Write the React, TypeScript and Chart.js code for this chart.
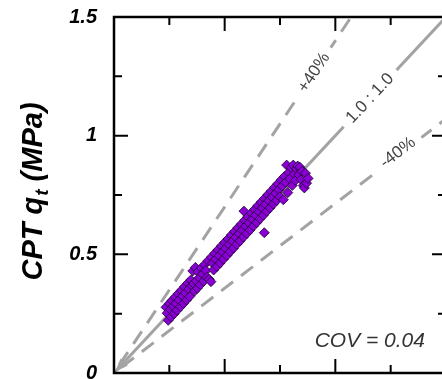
import React, { useEffect, useRef } from "react";
import { Chart, registerables } from "chart.js";

Chart.register(...registerables);

// Predicted (x) and CPT measured qt (y), MPa
const predictedQt = [
  0.235, 0.24, 0.245, 0.25, 0.255, 0.258, 0.262, 0.268, 0.272, 0.276, 0.28, 0.285, 0.29, 0.294, 0.3, 0.304,
  0.31, 0.314, 0.318, 0.323, 0.328, 0.333, 0.338, 0.342, 0.347, 0.352, 0.356, 0.36, 0.364, 0.368, 0.372, 0.376,
  0.38, 0.385, 0.39, 0.395, 0.4, 0.405, 0.41, 0.415, 0.42, 0.425, 0.43, 0.438, 0.44, 0.445, 0.45, 0.455,
  0.46, 0.465, 0.47, 0.475, 0.48, 0.485, 0.49, 0.495, 0.5, 0.505, 0.51, 0.515, 0.52, 0.525, 0.53, 0.535,
  0.54, 0.545, 0.55, 0.555, 0.56, 0.565, 0.57, 0.575, 0.58, 0.585, 0.587, 0.59, 0.595, 0.6, 0.605, 0.61,
  0.615, 0.62, 0.625, 0.63, 0.635, 0.64, 0.645, 0.65, 0.655, 0.66, 0.665, 0.67, 0.675, 0.679, 0.68, 0.685,
  0.69, 0.695, 0.7, 0.705, 0.71, 0.715, 0.72, 0.725, 0.73, 0.735, 0.74, 0.745, 0.75, 0.755, 0.76, 0.765,
  0.77, 0.775, 0.78, 0.785, 0.79, 0.795, 0.8, 0.805, 0.81, 0.815, 0.82, 0.825, 0.83, 0.835, 0.84, 0.845,
  0.85, 0.855, 0.86, 0.865, 0.87, 0.877,
];
const measuredQt = [
  0.277, 0.252, 0.222, 0.293, 0.268, 0.236, 0.305, 0.281, 0.25, 0.319, 0.293, 0.264, 0.334, 0.308, 0.279, 0.348,
  0.324, 0.293, 0.363, 0.338, 0.308, 0.378, 0.353, 0.322, 0.392, 0.368, 0.43, 0.376, 0.345, 0.445, 0.388, 0.357,
  0.426, 0.402, 0.372, 0.442, 0.417, 0.387, 0.457, 0.432, 0.403, 0.473, 0.395, 0.385, 0.488, 0.463, 0.434, 0.504,
  0.479, 0.449, 0.519, 0.494, 0.464, 0.535, 0.51, 0.48, 0.55, 0.525, 0.495, 0.565, 0.541, 0.511, 0.581, 0.556,
  0.526, 0.596, 0.572, 0.542, 0.612, 0.587, 0.557, 0.627, 0.602, 0.573, 0.682, 0.643, 0.618, 0.588, 0.658, 0.633,
  0.603, 0.674, 0.649, 0.619, 0.689, 0.664, 0.634, 0.705, 0.68, 0.65, 0.72, 0.695, 0.665, 0.591, 0.735, 0.711,
  0.681, 0.751, 0.726, 0.696, 0.766, 0.741, 0.712, 0.782, 0.757, 0.727, 0.797, 0.772, 0.743, 0.813, 0.788, 0.73,
  0.828, 0.803, 0.876, 0.76, 0.845, 0.818, 0.865, 0.79, 0.876, 0.838, 0.812, 0.86, 0.872, 0.835, 0.867, 0.815,
  0.85, 0.79, 0.78, 0.842, 0.8, 0.82,
];

// Reference lines: ratio y/x
const lineRatios = [1.4, 1.0, 1 / 1.4];
const lineDashed = [true, false, true];
const lineLabels = ["+40%", "1.0 : 1.0", "-40%"];
const labelAtX = [0.904, 1.157, 1.283];
const labelOffsetY = [0, 0, 0.012];

const axisMin = 0;
const axisMax = 1.5;
const majorStep = 0.5;
const minorTicks = [0.25, 0.5, 0.75, 1.0, 1.25];
const yTitleMain = "CPT q";
const yTitleSub = "t";
const yTitleTail = " (MPa)";
const covText = "COV = 0.04";
const covAt = { x: 1.405, y: 0.111 };

const FONT = "Arial, 'Liberation Sans', sans-serif";
const LINE_GRAY = "#a3a3a3";

const decorPlugin = {
  id: "decor",
  afterDatasetsDraw(chart: any) {
    const { ctx, scales } = chart;
    const x = scales.x;
    const y = scales.y;
    ctx.save();
    ctx.font = `17px ${FONT}`;
    ctx.textAlign = "center";
    ctx.textBaseline = "middle";
    lineLabels.forEach((txt, i) => {
      const lx = labelAtX[i];
      const ly = lx * lineRatios[i] + labelOffsetY[i];
      const px = x.getPixelForValue(lx);
      const py = y.getPixelForValue(ly);
      const ang = Math.atan2(
        y.getPixelForValue(lineRatios[i]) - y.getPixelForValue(0),
        x.getPixelForValue(1) - x.getPixelForValue(0)
      );
      const w = ctx.measureText(txt).width;
      ctx.save();
      ctx.translate(px, py);
      ctx.rotate(ang);
      ctx.fillStyle = "#ffffff";
      ctx.fillRect(-w / 2 - 8, -7, w + 16, 14);
      ctx.fillStyle = "#444444";
      ctx.fillText(txt, 0, 0);
      ctx.restore();
    });
    // arrow head at origin on 1:1 line
    const ox = x.getPixelForValue(0);
    const oy = y.getPixelForValue(0);
    const dx = x.getPixelForValue(1) - ox;
    const dy = y.getPixelForValue(1) - oy;
    const len = Math.hypot(dx, dy);
    const ux = dx / len;
    const uy = dy / len;
    const bx = ox + ux * 15;
    const by = oy + uy * 15;
    ctx.fillStyle = LINE_GRAY;
    ctx.beginPath();
    ctx.moveTo(ox + 1, oy - 1);
    ctx.lineTo(bx - uy * 5, by + ux * 5);
    ctx.lineTo(bx + uy * 5, by - ux * 5);
    ctx.closePath();
    ctx.fill();
    ctx.restore();
  },
  afterDraw(chart: any) {
    const { ctx, chartArea: a, scales } = chart;
    const x = scales.x;
    const y = scales.y;
    ctx.save();
    // ticks
    ctx.strokeStyle = "#000";
    ctx.lineWidth = 2;
    ctx.beginPath();
    minorTicks.forEach((v) => {
      const len = Math.abs(v / majorStep - Math.round(v / majorStep)) < 1e-6 ? 14 : 8;
      const px = x.getPixelForValue(v);
      ctx.moveTo(px, a.bottom);
      ctx.lineTo(px, a.bottom - len);
      ctx.moveTo(px, a.top);
      ctx.lineTo(px, a.top + len);
      const py = y.getPixelForValue(v);
      ctx.moveTo(a.left, py);
      ctx.lineTo(a.left + len, py);
      ctx.moveTo(a.right, py);
      ctx.lineTo(a.right - len, py);
    });
    ctx.stroke();
    // frame
    ctx.lineWidth = 2.5;
    ctx.strokeRect(a.left, a.top, a.right - a.left, a.bottom - a.top);

    // COV text
    ctx.fillStyle = "#333333";
    ctx.font = `italic 21px ${FONT}`;
    ctx.textAlign = "right";
    ctx.textBaseline = "alphabetic";
    ctx.fillText(covText, x.getPixelForValue(covAt.x), y.getPixelForValue(covAt.y));

    // Y title
    ctx.fillStyle = "#000";
    ctx.save();
    ctx.translate(42, 192);
    ctx.rotate(-Math.PI / 2);
    const fMain = `italic bold 29px ${FONT}`;
    const fSub = `italic bold 19px ${FONT}`;
    ctx.font = fMain;
    const w1 = ctx.measureText(yTitleMain).width;
    const w3 = ctx.measureText(yTitleTail).width;
    ctx.font = fSub;
    const w2 = ctx.measureText(yTitleSub).width;
    const start = -(w1 + w2 + w3) / 2;
    ctx.textAlign = "left";
    ctx.font = fMain;
    ctx.fillText(yTitleMain, start, 0);
    ctx.font = fSub;
    ctx.fillText(yTitleSub, start + w1 + 1, 6);
    ctx.font = fMain;
    ctx.fillText(yTitleTail, start + w1 + w2 + 1, 0);
    ctx.restore();
    ctx.restore();
  },
};

export default function App() {
  const ref = useRef<HTMLCanvasElement | null>(null);
  useEffect(() => {
    document.body.style.margin = "0";
    const canvas = ref.current;
    if (!canvas) return;
    const points = predictedQt.map((v, i) => ({ x: v, y: measuredQt[i] }));
    const lineSets = lineRatios.map((r, i) => ({
      type: "line" as const,
      data: [
        { x: 0, y: 0 },
        { x: axisMax, y: axisMax * r },
      ],
      borderColor: LINE_GRAY,
      borderWidth: 3,
      borderDash: lineDashed[i] ? [15, 10] : [],
      borderDashOffset: lineDashed[i] ? 15 : 0,
      pointRadius: 0,
      fill: false,
      order: 2,
    }));
    const chart = new Chart(canvas, {
      type: "scatter",
      data: {
        datasets: [
          {
            data: points,
            pointStyle: "rectRot",
            pointRadius: 5,
            backgroundColor: "#8a00d4",
            borderColor: "#1c0030",
            borderWidth: 0.8,
            order: 0,
          } as any,
          ...lineSets,
        ],
      },
      options: {
        animation: false,
        responsive: false,
        layout: { padding: { top: 17, bottom: 27, right: 14, left: 0 } },
        plugins: { legend: { display: false }, tooltip: { enabled: false } },
        scales: {
          x: { type: "linear", min: axisMin, max: axisMax, display: false },
          y: {
            type: "linear",
            min: axisMin,
            max: axisMax,
            grid: { display: false, drawTicks: false },
            border: { display: false },
            ticks: {
              stepSize: majorStep,
              padding: 17,
              color: "#000",
              font: { family: FONT, size: 20, weight: "bold", style: "italic" },
              callback: (v: any) => String(Number(v)),
            },
            afterFit: (scale: any) => {
              scale.width = 114;
              scale.paddingTop = 0;
              scale.paddingBottom = 0;
            },
          },
        },
      } as any,
      plugins: [decorPlugin],
    });
    return () => chart.destroy();
  }, []);
  return (
    <div style={{ width: 442, height: 379, overflow: "hidden", position: "relative" }}>
      <canvas ref={ref} width={460} height={400} style={{ display: "block" }} />
    </div>
  );
}
